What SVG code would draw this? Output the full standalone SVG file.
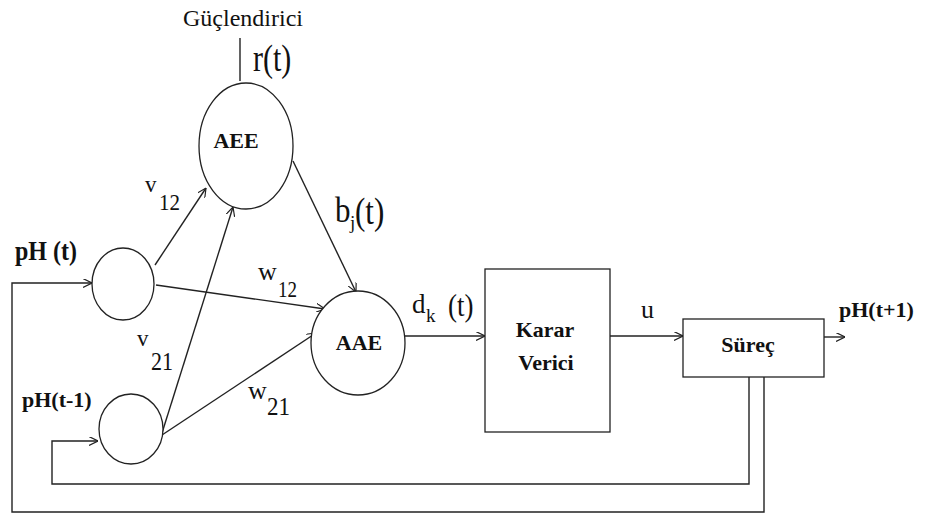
<svg xmlns="http://www.w3.org/2000/svg" width="930" height="516" viewBox="0 0 930 516">
<defs>
<marker id="arr" viewBox="0 0 10 10" refX="10" refY="5" markerWidth="9" markerHeight="9" markerUnits="userSpaceOnUse" orient="auto">
<path d="M0,0 L10,5 L0,10" fill="none" stroke="#222" stroke-width="1.3"/>
</marker>
</defs>
<style>
.ln{fill:none;stroke:#222;stroke-width:1.4}
.nd{fill:#fff;stroke:#222;stroke-width:1.3}
.t{font-family:"Liberation Serif","Times New Roman",serif;fill:#111}
.b{font-weight:bold}
</style>
<rect width="930" height="516" fill="#fff"/>
<g id="connectors">
<line class="ln" x1="240" y1="38" x2="240" y2="81"/>
<polyline class="ln" points="764,377 764,512 12,512 12,283 92,283" marker-end="url(#arr)"/>
<polyline class="ln" points="749,377 749,484 52,484 52,441 98,441" marker-end="url(#arr)"/>
<line class="ln" x1="405" y1="336" x2="485" y2="336" marker-end="url(#arr)"/>
<line class="ln" x1="610" y1="336" x2="683" y2="336" marker-end="url(#arr)"/>
<line class="ln" x1="824" y1="337" x2="845" y2="337" marker-end="url(#arr)"/>
<line class="ln" x1="155" y1="265" x2="206" y2="188" marker-end="url(#arr)"/>
<line class="ln" x1="156" y1="285" x2="325" y2="309" marker-end="url(#arr)"/>
<line class="ln" x1="162" y1="433" x2="233" y2="207" marker-end="url(#arr)"/>
<line class="ln" x1="162" y1="435" x2="316" y2="333" marker-end="url(#arr)"/>
<line class="ln" x1="293" y1="161" x2="356" y2="292" marker-end="url(#arr)"/>
</g>
<g id="guclendirici">
<text class="t" x="183" y="26" font-size="24" textLength="120" lengthAdjust="spacingAndGlyphs">Güçlendirici</text>
<text class="t" transform="translate(253,71) scale(1,1.25)" font-size="30">r(t)</text>
</g>
<g id="AEE">
<ellipse class="nd" cx="246" cy="146" rx="47" ry="63"/>
<text class="t b" x="236" y="148" font-size="22" text-anchor="middle">AEE</text>
</g>
<g id="input1">
<ellipse class="nd" cx="123" cy="284" rx="31" ry="36"/>
<text class="t b" transform="translate(15,260) scale(1,1.15)" font-size="24">pH (t)</text>
</g>
<g id="input2">
<ellipse class="nd" cx="131" cy="429" rx="32" ry="35"/>
<text class="t b" x="22" y="407" font-size="22">pH(t-1)</text>
</g>
<g id="AAE">
<ellipse class="nd" cx="358" cy="343" rx="47" ry="52"/>
<text class="t b" x="359" y="350" font-size="22" text-anchor="middle">AAE</text>
</g>
<g id="karar">
<rect class="nd" x="485" y="269" width="125" height="163"/>
<text class="t b" x="545" y="337" font-size="22" text-anchor="middle">Karar</text>
<text class="t b" x="546" y="370" font-size="22" text-anchor="middle">Verici</text>
</g>
<g id="surec">
<rect class="nd" x="683" y="319" width="141" height="58"/>
<text class="t b" x="748" y="352" font-size="22" text-anchor="middle">Süreç</text>
</g>
<g id="labels">
<text class="t" x="145" y="192" font-size="23">v</text>
<text class="t" x="159" y="210" font-size="23" textLength="21" lengthAdjust="spacingAndGlyphs">12</text>
<text class="t" transform="translate(335,222) scale(1,1.15)" font-size="31">b</text>
<text class="t" x="350" y="229" font-size="19">j</text>
<text class="t" transform="translate(355,224) scale(1,1.25)" font-size="31">(t)</text>
<text class="t" x="258" y="280" font-size="26">w</text>
<text class="t" x="278" y="297" font-size="23" textLength="19" lengthAdjust="spacingAndGlyphs">12</text>
<text class="t" x="137" y="346" font-size="23">v</text>
<text class="t" x="151" y="370" font-size="25" textLength="22" lengthAdjust="spacingAndGlyphs">21</text>
<text class="t" x="248" y="399" font-size="26">w</text>
<text class="t" x="267" y="415" font-size="25" textLength="23" lengthAdjust="spacingAndGlyphs">21</text>
<text class="t" x="412" y="313" font-size="27">d</text>
<text class="t" x="426" y="322" font-size="19">k</text>
<text class="t" transform="translate(448,316) scale(1,1.15)" font-size="27">(t)</text>
<text class="t" x="641" y="318" font-size="26">u</text>
<text class="t b" x="839" y="317" font-size="22">pH(t+1)</text>
</g>
</svg>
